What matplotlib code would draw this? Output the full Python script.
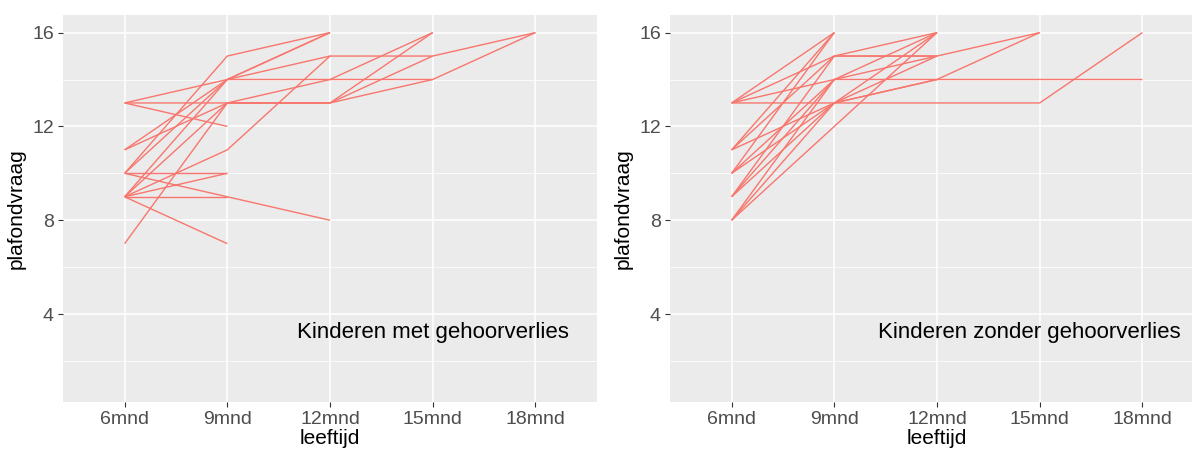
import numpy as np
import matplotlib
matplotlib.use("Agg")
import matplotlib.pyplot as plt

plt.rcParams["font.family"] = ["Liberation Sans", "DejaVu Sans"]

leeftijd = ["6mnd", "9mnd", "12mnd", "15mnd", "18mnd"]

# plafondvraag per kind (6, 9, 12, 15, 18 mnd); None = niet gemeten
met_verlies = [
    [13, 14, 16, None, None],
    [13, 13, 13, 16, None],
    [13, 12, None, None, None],
    [11, 14, 15, None, None],
    [11, 13, 14, 14, 16],
    [10, 10, None, None, None],
    [10, 9, 8, None, None],
    [10, 15, 16, None, None],
    [10, 14, 16, None, None],
    [9, 9, None, None, None],
    [9, 7, None, None, None],
    [9, 10, None, None, None],
    [9, 11, 15, 15, 16],
    [9, 13, 13, 15, None],
    [9, 14, 14, 16, None],
    [7, 13, 13, 14, None],
]

zonder_verlies = [
    [13, 16, None, None, None],
    [13, 15, 15, 16, None],
    [13, 14, 14, 14, 14],
    [13, 13, 13, 13, 16],
    [11, 15, 16, None, None],
    [11, 16, None, None, None],
    [11, 13, 15, None, None],
    [10, 16, None, None, None],
    [10, 14, 16, None, None],
    [10, 13, 14, 16, None],
    [9, 15, 15, None, None],
    [9, 14, 15, None, None],
    [9, 13, 16, None, None],
    [8, 12, 16, None, None],
    [8, 13, 14, None, None],
    [8, 14, None, None, None],
]

labels = ["Kinderen met gehoorverlies", "Kinderen zonder gehoorverlies"]
label_x = [3.0, 2.9]

fig = plt.figure(figsize=(11.92, 4.51), dpi=100)
W, H = 1192, 451
# panel bounds in pixels (left, right, top, bottom)
panels = [(63, 597, 15, 402), (670, 1204, 15, 402)]

x = np.arange(len(leeftijd))
for (l, r, t, b), data, label, lx in zip(panels, [met_verlies, zonder_verlies], labels, label_x):
    ax = fig.add_axes([l / W, (H - b) / H, (r - l) / W, (b - t) / H])
    ax.set_facecolor("#EBEBEB")
    for s in ax.spines.values():
        s.set_visible(False)
    for kind in data:
        y = np.array([np.nan if v is None else v for v in kind], dtype=float)
        ax.plot(x, y, color="#F8766D", lw=1.0, solid_capstyle="butt", zorder=3)
    ax.set_xlim(-0.6, 4.6)
    ax.set_ylim(0.25, 16.75)
    ax.set_xticks(x)
    ax.set_xticklabels(leeftijd)
    ax.set_yticks([4, 8, 12, 16])
    ax.set_yticks([2, 6, 10, 14], minor=True)
    ax.grid(True, which="major", color="white", lw=1.1, zorder=0)
    ax.grid(True, which="minor", axis="y", color="white", lw=0.55, zorder=0)
    ax.set_axisbelow(True)
    ax.tick_params(which="major", length=3.5, width=0.8, color="#333333",
                   labelsize=14, labelcolor="#4D4D4D", pad=3)
    ax.tick_params(which="minor", length=0)
    ax.set_xlabel("leeftijd", fontsize=15, labelpad=1)
    ax.set_ylabel("plafondvraag", fontsize=15, labelpad=5)
    ax.text(lx, 3.2, label, fontsize=16, ha="center", va="center", color="black")

fig.savefig("out.png", dpi=100)
